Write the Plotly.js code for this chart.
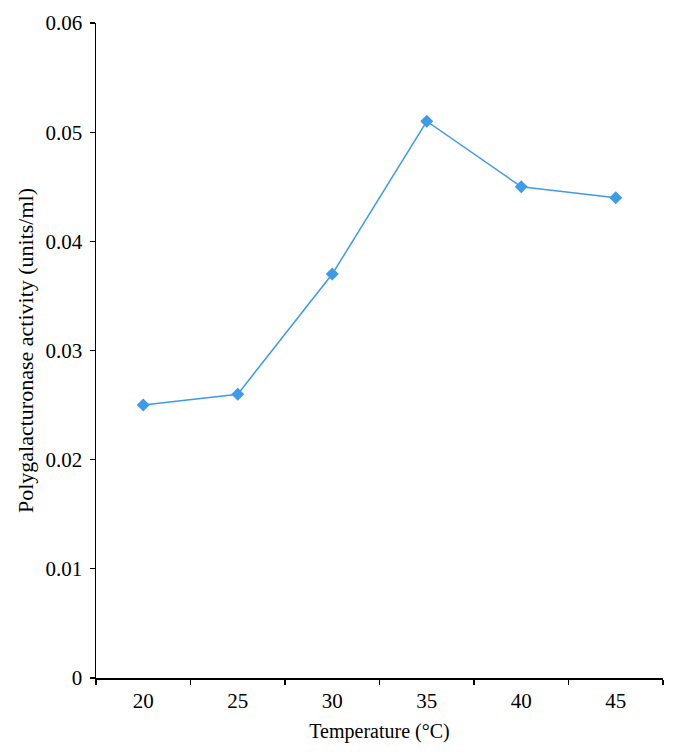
<!DOCTYPE html>
<html>
<head>
<meta charset="utf-8">
<script src="https://cdn.plot.ly/plotly-3.0.1.min.js"></script>
<style>html,body{margin:0;padding:0;background:#fff;}#chart{width:678px;height:755px;}</style>
</head>
<body>
<div id="chart"></div>
<script>
const temperatures = ["20", "25", "30", "35", "40", "45"];
const activity = [0.025, 0.026, 0.037, 0.051, 0.045, 0.044];
const yTickVals = [0, 0.01, 0.02, 0.03, 0.04, 0.05, 0.06];
const yTickText = ["0", "0.01", "0.02", "0.03", "0.04", "0.05", "0.06"];

const fam = "Liberation Serif, Times New Roman, serif";
const tickFont = {family: fam, size: 21, color: "#000"};
const xTitleFont = {family: fam, size: 20, color: "#000"};
const yTitleFont = {family: fam, size: 22, color: "#000"};

Plotly.newPlot("chart", [{
  x: temperatures,
  y: activity,
  type: "scatter",
  mode: "lines+markers",
  line: {color: "#3d9be9", width: 1.5},
  marker: {symbol: "diamond", size: 10, color: "#3d9be9"},
  showlegend: false
}], {
  width: 678, height: 755,
  margin: {l: 96, r: 15, t: 23, b: 77},
  paper_bgcolor: "#fff", plot_bgcolor: "#fff",
  font: tickFont,
  xaxis: {
    type: "category",
    range: [-0.5, temperatures.length - 0.5],
    tickson: "boundaries",
    ticks: "outside", ticklen: 5, tickwidth: 1.2, tickcolor: "#000",
    ticklabelstandoff: 3,
    showline: true, linecolor: "#000", linewidth: 1.5,
    showgrid: false, zeroline: false,
    tickfont: tickFont,
    title: {text: "Temperature (°C)", font: xTitleFont, standoff: 12}
  },
  yaxis: {
    range: [0, 0.06],
    tickvals: yTickVals, ticktext: yTickText,
    ticks: "outside", ticklen: 5, tickwidth: 1.2, tickcolor: "#000",
    ticklabelstandoff: 3,
    showline: true, linecolor: "#000", linewidth: 1.5,
    showgrid: false, zeroline: false,
    tickfont: tickFont,
    title: {text: "Polygalacturonase activity (units/ml)", font: yTitleFont, standoff: 6}
  }
}, {displayModeBar: false, staticPlot: true});
</script>
</body>
</html>
